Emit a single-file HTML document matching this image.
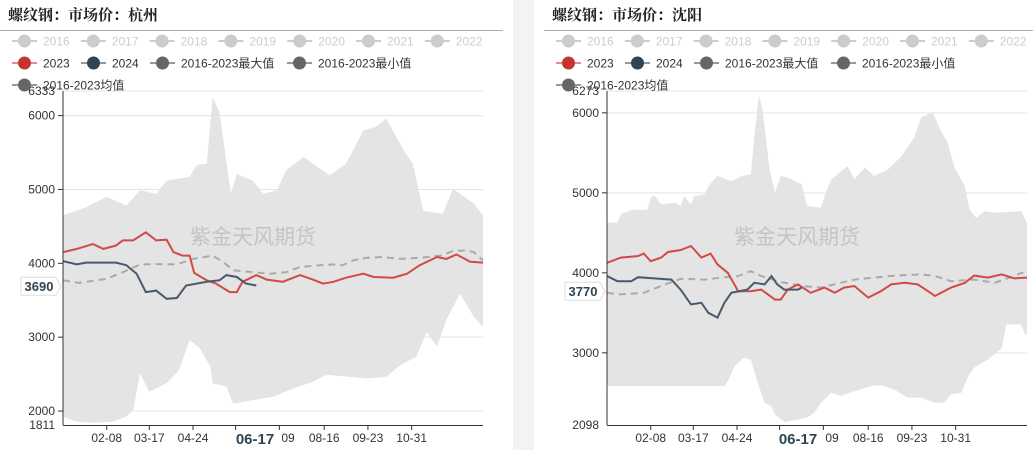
<!DOCTYPE html>
<html><head><meta charset="utf-8">
<style>
html,body{margin:0;padding:0;width:1033px;height:450px;overflow:hidden;background:#fff;font-family:"Liberation Sans","Noto Sans CJK SC",sans-serif;}
#strip{position:absolute;left:513px;top:0;width:21px;height:450px;background:#f3f3f3;}
svg{position:absolute;left:0;top:0;}
</style></head>
<body>
<div id="strip"></div>
<svg id="svg" width="1033" height="450"></svg>
<script>
// ---- Hangzhou data (day of year, price) ----
const hzMaxDays=[0,20,38,55,67,81,90,110,116,125,130,136,142,146,151,165,174,186,194,209,217,232,246,261,272,281,296,304,313,322,330,339,357,365];
const hzMaxVals=[4650,4760,4900,4780,4990,4940,5120,5170,5330,5350,6250,6050,5370,4940,5210,5120,4940,4990,5260,5440,5350,5190,5350,5800,5850,5960,5530,5350,4710,4690,4670,5010,4810,4650];
const hzMinDays=[0,12,26,43,55,61,67,75,90,101,110,119,128,130,142,148,165,183,200,217,229,249,264,281,293,307,316,325,333,345,357,365];
const hzMinVals=[1925,1855,1842,1855,1925,2015,2510,2260,2375,2555,2960,2850,2600,2375,2330,2100,2150,2195,2305,2395,2490,2465,2440,2465,2620,2735,3070,2870,3230,3590,3275,3140];
const hz2023Days=[0,12,26,35,46,52,61,72,81,90,96,104,110,114,125,133,145,151,156,168,177,191,206,217,226,235,246,261,270,287,299,310,325,333,342,354,365];
const hz2023Vals=[4150,4195,4260,4195,4240,4310,4310,4420,4310,4320,4150,4105,4105,3870,3770,3725,3610,3610,3750,3840,3780,3750,3840,3780,3725,3750,3805,3860,3815,3805,3860,3975,4085,4060,4120,4020,4010];
const hz2024Days=[0,12,20,46,55,64,72,81,90,99,107,125,136,142,151,159,168];
const hz2024Vals=[4030,3985,4010,4010,3975,3860,3610,3630,3520,3530,3700,3750,3770,3840,3815,3725,3700];
const hzAvgDays=[0,14,38,52,67,81,99,113,130,139,148,165,180,194,206,223,235,243,252,264,278,293,310,328,339,351,357,365];
const hzAvgVals=[3770,3735,3790,3880,3985,3990,3985,4060,4105,4020,3905,3880,3860,3880,3950,3975,3985,3975,4040,4075,4085,4060,4075,4105,4165,4175,4150,4040];
// ---- Shenyang data ----
const syMaxDays=[0,9,12,21,35,38,41,47,59,64,67,73,76,85,88,96,108,117,125,128,132,135,138,141,146,151,157,169,174,186,190,195,209,215,224,232,244,256,267,273,283,289,296,302,311,315,321,328,337,360,365];
const syMaxVals=[4625,4625,4730,4785,4790,4940,4970,4855,4875,4835,4960,4855,4960,4980,5085,5210,5145,5210,5230,5710,6215,6060,5710,5315,5000,5210,5190,5105,4835,4815,5000,5170,5335,5170,5315,5210,5290,5460,5690,5940,6010,5810,5625,5315,5085,4790,4685,4770,4750,4770,4625];
const syMinDays=[0,102,105,111,119,125,131,137,143,146,154,166,174,180,186,195,203,215,230,238,250,261,273,285,293,299,308,314,319,331,343,347,360,363,365];
const syMinVals=[2585,2585,2645,2835,2940,2915,2625,2375,2335,2230,2135,2165,2190,2250,2375,2500,2460,2520,2585,2595,2540,2440,2440,2375,2375,2480,2500,2710,2815,2915,3060,3355,3355,3230,3230];
const sy2023Days=[0,12,27,32,38,47,53,64,73,82,90,96,105,114,125,134,146,151,157,166,177,189,198,206,215,227,238,247,259,270,279,285,299,311,319,331,343,354,365];
const sy2023Vals=[4125,4190,4210,4240,4145,4190,4260,4285,4335,4190,4240,4105,4000,3770,3770,3790,3665,3665,3790,3855,3750,3815,3750,3815,3835,3690,3770,3855,3875,3855,3770,3710,3815,3875,3965,3940,3980,3930,3940];
const sy2024Days=[0,9,21,27,56,64,73,82,88,96,102,108,122,128,137,143,148,154,166,169];
const sy2024Vals=[3960,3895,3895,3945,3915,3790,3605,3625,3500,3440,3625,3750,3790,3875,3855,3960,3855,3790,3790,3815];
const syAvgDays=[0,12,32,47,64,85,99,114,125,134,151,169,186,203,215,232,250,273,285,299,319,337,354,360,365];
const syAvgVals=[3750,3730,3750,3835,3925,3915,3940,3960,4020,3960,3885,3835,3815,3875,3915,3940,3965,3980,3960,3895,3915,3875,3960,4000,3980];
// ---- axis/tick labels ----
const xTickLabels=["02-08","03-17","04-24","06-17","07-09","08-16","09-23","10-31"];
const xTickDays=[38,75,113,150,188,227,265,303];
const hzYTicks=[2000,3000,4000,5000,6000];
const syYTicks=[3000,4000,5000,6000];
const legendYears=["2016","2017","2018","2019","2020","2021","2022"];
const legendRow2=["2023","2024","2016-2023最大值","2016-2023最小值"];
const legendRow3=["2016-2023均值"];
const hzRange=[1811,6333], syRange=[2098,6273];
const hzCurrent="3690", syCurrent="3770";

const NS="http://www.w3.org/2000/svg";
const svg=document.getElementById('svg');
function mk(tag,attrs,parent){const e=document.createElementNS(NS,tag);for(const k in attrs)e.setAttribute(k,attrs[k]);(parent||svg).appendChild(e);return e;}
function txt(s,attrs,parent){const e=mk('text',attrs,parent);e.textContent=s;return e;}

function panel(ox,title,titleLine,range,yTicks,maxD,maxV,minD,minV,d23,v23,d24,v24,dA,vA,cur,cursorDay,cursorLabelX){
  const g=mk('g',{});
  
  
  const x0=ox+63,x1=ox+483,yT=91,yB=425;
  const X=d=>x0+d/365*(x1-x0);
  const Y=v=>yB-(v-range[0])/(range[1]-range[0])*(yB-yT);
  const t=txt(title,{x:ox+8,y:20,'font-size':15,'font-weight':'bold','font-family':'"Noto Serif CJK SC","Liberation Serif",serif',fill:'#222'},g);
  
  
  const hl=mk('line',{x1:titleLine[0],x2:titleLine[1],y1:30.5,y2:30.5,stroke:'#aaa'},g);
  
  
  function leg(label,x,y,col,lineCol,txtCol){
    const lg=mk('g',{},g);
    
    
    mk('line',{x1:x,x2:x+25,y1:y,y2:y,stroke:lineCol,'stroke-width':2},lg);
    mk('circle',{cx:x+12.5,cy:y,r:6.5,fill:col},lg);
    txt(label,{x:x+31,y:y+4.5,'font-size':12,fill:txtCol},lg);
  }
  legendYears.forEach((l,i)=>leg(l,ox+12+i*68.8,41,'#ccc','#ccc','#ccc'));
  const r2x=[12,81,150,287], r2c=['#c23531','#2f4554','#666','#666'], r2l=['#e08f8d','#8c9aa5','#999','#999'];
  legendRow2.forEach((l,i)=>leg(l,ox+r2x[i],63,r2c[i],r2l[i],'#333'));
  yTicks.concat([range[1]]).forEach(v=>{mk('line',{x1:x0,x2:x1,y1:Y(v),y2:Y(v),stroke:'#e3e3e3'},g);});
  let p='';
  maxD.forEach((d,i)=>{p+=(i?'L':'M')+X(d).toFixed(1)+','+Y(maxV[i]).toFixed(1);});
  for(let i=minD.length-1;i>=0;i--)p+='L'+X(minD[i]).toFixed(1)+','+Y(minV[i]).toFixed(1);
  const band=mk('path',{d:p+'Z',fill:'#e4e4e4'},g);
  
  
  const wm=txt('紫金天风期货',{x:ox+253,y:244,'font-size':21,fill:'#c4c4c4','text-anchor':'middle'},g);
  
  
  function line(ds,vs,col,w,dash,name){
    let q='';ds.forEach((d,i)=>{q+=(i?'L':'M')+X(d).toFixed(1)+','+Y(vs[i]).toFixed(1);});
    const e=mk('path',{d:q,fill:'none',stroke:col,'stroke-width':w},g);
    if(dash)e.setAttribute('stroke-dasharray',dash);
    
    
  }
  line(dA,vA,'#aaa',2,'7,5','series-avg');
  line(d23,v23,'#d14a48',2,null,'series-2023');
  line(d24,v24,'#4a5a6a',2,null,'series-2024');
  mk('line',{x1:x0,x2:x0,y1:yT,y2:yB,stroke:'#333'},g);
  mk('line',{x1:x0,x2:x1,y1:yB+.5,y2:yB+.5,stroke:'#333'},g);
  yTicks.forEach(v=>{mk('line',{x1:x0-5,x2:x0,y1:Y(v),y2:Y(v),stroke:'#333'},g);
    const tl=txt(String(v),{x:x0-8,y:Y(v)+4,'font-size':12,fill:'#333','text-anchor':'end'},g);
    
    });
  txt(String(range[0]),{x:x0-8,y:yB+4,'font-size':12,fill:'#333','text-anchor':'end'},g);
  txt(String(range[1]),{x:x0-8,y:yT+4,'font-size':12,fill:'#333','text-anchor':'end'},g);
  xTickDays.forEach((d,i)=>{mk('line',{x1:X(d),x2:X(d),y1:yB,y2:yB+5,stroke:'#333'},g);
    const tl=txt(xTickLabels[i],{x:X(d),y:yB+17,'font-size':12,fill:'#333','text-anchor':'middle'},g);
    
    });
  legendRow3.forEach(l=>leg(l,ox+12,85,'#666','#999','#333'));
  const cy=Y(Number(cur));
  const b=mk('g',{},g);
  
  
  mk('path',{d:`M${x0-42},${cy-9}H${x0-7}L${x0-2},${cy}L${x0-7},${cy+9}H${x0-42}Z`,fill:'#fff',stroke:'#ddd'},b);
  txt(cur,{x:x0-24,y:cy+5,'font-size':13,'font-weight':'bold',fill:'#2f4554','text-anchor':'middle'},b);
  const c=mk('g',{},g);
  
  
  mk('rect',{x:X(cursorDay)-22,y:yB+6,width:cursorLabelX+27-(X(cursorDay)-22),height:19,fill:'#fff'},c);
  txt('06-17',{x:cursorLabelX,y:yB+19,'font-size':15,'font-weight':'bold',fill:'#2f4554','text-anchor':'middle'},c);
}
panel(0,'螺纹钢：市场价：杭州',[0,503],hzRange,hzYTicks,hzMaxDays,hzMaxVals,hzMinDays,hzMinVals,hz2023Days,hz2023Vals,hz2024Days,hz2024Vals,hzAvgDays,hzAvgVals,hzCurrent,150,255);
panel(544,'螺纹钢：市场价：沈阳',[544,1033],syRange,syYTicks,syMaxDays,syMaxVals,syMinDays,syMinVals,sy2023Days,sy2023Vals,sy2024Days,sy2024Vals,syAvgDays,syAvgVals,syCurrent,150,798);
</script>
</body></html>
